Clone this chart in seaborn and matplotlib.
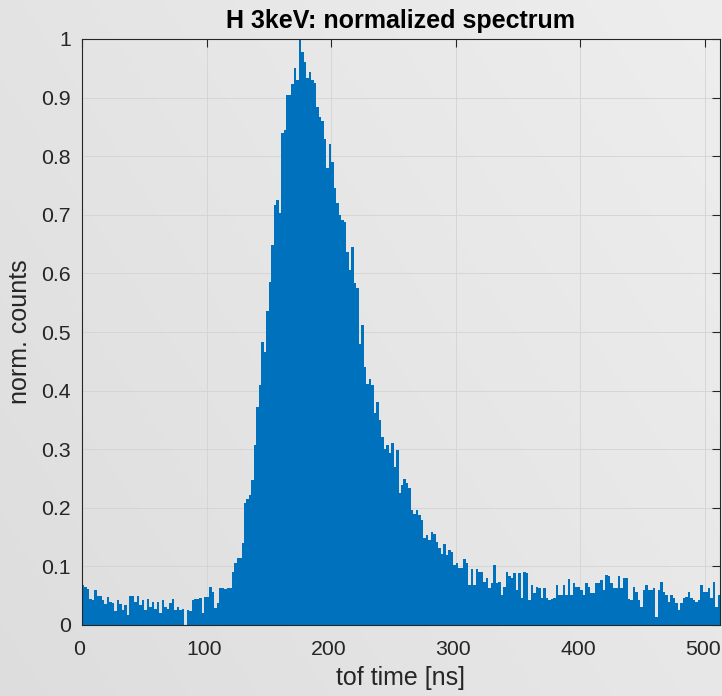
import numpy as np
import pandas as pd
import matplotlib
matplotlib.use("Agg")
import matplotlib.pyplot as plt
import matplotlib.transforms as mtransforms
import seaborn as sns

# ---- data ----
bin_width_ns = 2
tof_start_ns = 0
counts_norm = [
    0.068, 0.065, 0.062, 0.045, 0.043, 0.060, 0.050, 0.050, 0.043, 0.036,
    0.048, 0.040, 0.037, 0.024, 0.043, 0.036, 0.026, 0.034, 0.017, 0.050,
    0.050, 0.040, 0.050, 0.034, 0.043, 0.026, 0.045, 0.031, 0.040, 0.028,
    0.040, 0.020, 0.043, 0.031, 0.028, 0.037, 0.045, 0.026, 0.031, 0.026,
    0.028, 0.000, 0.026, 0.024, 0.043, 0.045, 0.045, 0.046, 0.020, 0.048,
    0.048, 0.065, 0.056, 0.029, 0.037, 0.063, 0.063, 0.062, 0.063, 0.063,
    0.090, 0.106, 0.114, 0.114, 0.140, 0.208, 0.215, 0.222, 0.247, 0.307,
    0.372, 0.410, 0.483, 0.466, 0.535, 0.586, 0.648, 0.717, 0.725, 0.703,
    0.840, 0.845, 0.904, 0.904, 0.923, 0.950, 0.930, 1.000, 0.978, 0.960,
    0.933, 0.944, 0.930, 0.925, 0.884, 0.867, 0.860, 0.830, 0.780, 0.820,
    0.790, 0.745, 0.720, 0.700, 0.691, 0.688, 0.637, 0.606, 0.645, 0.583,
    0.575, 0.480, 0.512, 0.440, 0.412, 0.420, 0.410, 0.361, 0.381, 0.350,
    0.321, 0.301, 0.307, 0.293, 0.310, 0.270, 0.299, 0.225, 0.239, 0.250,
    0.242, 0.233, 0.196, 0.190, 0.196, 0.188, 0.179, 0.148, 0.154, 0.145,
    0.159, 0.156, 0.142, 0.131, 0.122, 0.139, 0.119, 0.128, 0.125, 0.102,
    0.105, 0.097, 0.097, 0.112, 0.105, 0.068, 0.095, 0.068, 0.095, 0.091,
    0.091, 0.074, 0.080, 0.063, 0.071, 0.102, 0.071, 0.074, 0.051, 0.065,
    0.091, 0.083, 0.080, 0.089, 0.060, 0.089, 0.046, 0.091, 0.088, 0.043,
    0.068, 0.054, 0.065, 0.063, 0.046, 0.063, 0.046, 0.043, 0.044, 0.046,
    0.068, 0.051, 0.051, 0.068, 0.051, 0.078, 0.051, 0.071, 0.065, 0.065,
    0.060, 0.051, 0.071, 0.065, 0.054, 0.054, 0.072, 0.071, 0.077, 0.060,
    0.085, 0.083, 0.071, 0.063, 0.063, 0.083, 0.063, 0.080, 0.080, 0.044,
    0.043, 0.065, 0.057, 0.042, 0.031, 0.060, 0.068, 0.060, 0.060, 0.063,
    0.014, 0.060, 0.074, 0.057, 0.051, 0.040, 0.051, 0.046, 0.037, 0.026,
    0.037, 0.046, 0.048, 0.057, 0.046, 0.043, 0.040, 0.043, 0.068, 0.057,
    0.057, 0.063, 0.046, 0.074, 0.031, 0.051,
]
x_ticks = [0, 100, 200, 300, 400, 500]
y_ticks = [0, 0.1, 0.2, 0.3, 0.4, 0.5, 0.6, 0.7, 0.8, 0.9, 1]
y_ticklabels = ["0", "0.1", "0.2", "0.3", "0.4", "0.5", "0.6", "0.7", "0.8", "0.9", "1"]
title = "H 3keV: normalized spectrum"
xlabel = "tof time [ns]"
ylabel = "norm. counts"

n_bins = len(counts_norm)
tof_end_ns = tof_start_ns + bin_width_ns * n_bins
centers = tof_start_ns + bin_width_ns * (np.arange(n_bins) + 0.5)
df = pd.DataFrame({"tof": centers, "w": counts_norm})

# ---- style ----
sns.set_theme(style="white")
plt.rcParams["font.family"] = ["Liberation Sans", "DejaVu Sans"]
text_col = "#262626"

fig = plt.figure(figsize=(7.22, 6.96), dpi=100)

# gray slide-like background gradient
bg = fig.add_axes([0, 0, 1, 1], zorder=-10)
gx = np.linspace(0, 1, 256)
gy = np.linspace(0, 1, 256)
GX, GY = np.meshgrid(gx, gy)
shade = 0.868 + 0.04 * GX + 0.025 * (1 - GY)
bg.imshow(np.dstack([shade, shade, shade]), extent=[0, 1, 0, 1],
          aspect="auto", origin="upper")
bg.axis("off")

ax = fig.add_axes([82 / 722, 1 - 625 / 696, (720 - 82) / 722, (625 - 39) / 696])
ax.set_facecolor("none")

sns.histplot(data=df, x="tof", weights="w", binwidth=bin_width_ns,
             binrange=(tof_start_ns, tof_end_ns),
             element="bars", fill=True, color="#0072BD", alpha=1.0,
             edgecolor="none", ax=ax)

ax.set_xlim(0, 512)
ax.set_ylim(0, 1)
ax.set_xticks(x_ticks)
ax.set_yticks(y_ticks)
ax.set_yticklabels(y_ticklabels)
ax.grid(True, color="#d3d3d3", linewidth=0.6)
ax.set_axisbelow(True)

for s in ["top", "bottom", "left", "right"]:
    ax.spines[s].set_visible(True)
    ax.spines[s].set_color(text_col)
    ax.spines[s].set_linewidth(0.8)

ax.tick_params(axis="both", which="both", direction="in", length=6, width=0.8,
               top=True, right=True, labelsize=15.3, colors=text_col,
               labelcolor=text_col)
ax.tick_params(axis="x", pad=11)
ax.tick_params(axis="y", pad=8)

# nudge x tick labels slightly left, as in the reference
shift = mtransforms.ScaledTranslation(-2.5 / 100, 0, fig.dpi_scale_trans)
for lab in ax.get_xticklabels():
    lab.set_transform(lab.get_transform() + shift)

ax.set_title(title, fontsize=18, fontweight="bold", color="black", pad=8)
ax.set_xlabel(xlabel, fontsize=18, color=text_col, labelpad=5)
ax.set_ylabel(ylabel, fontsize=18, color=text_col, labelpad=7)

fig.savefig("out.png", dpi=100)
